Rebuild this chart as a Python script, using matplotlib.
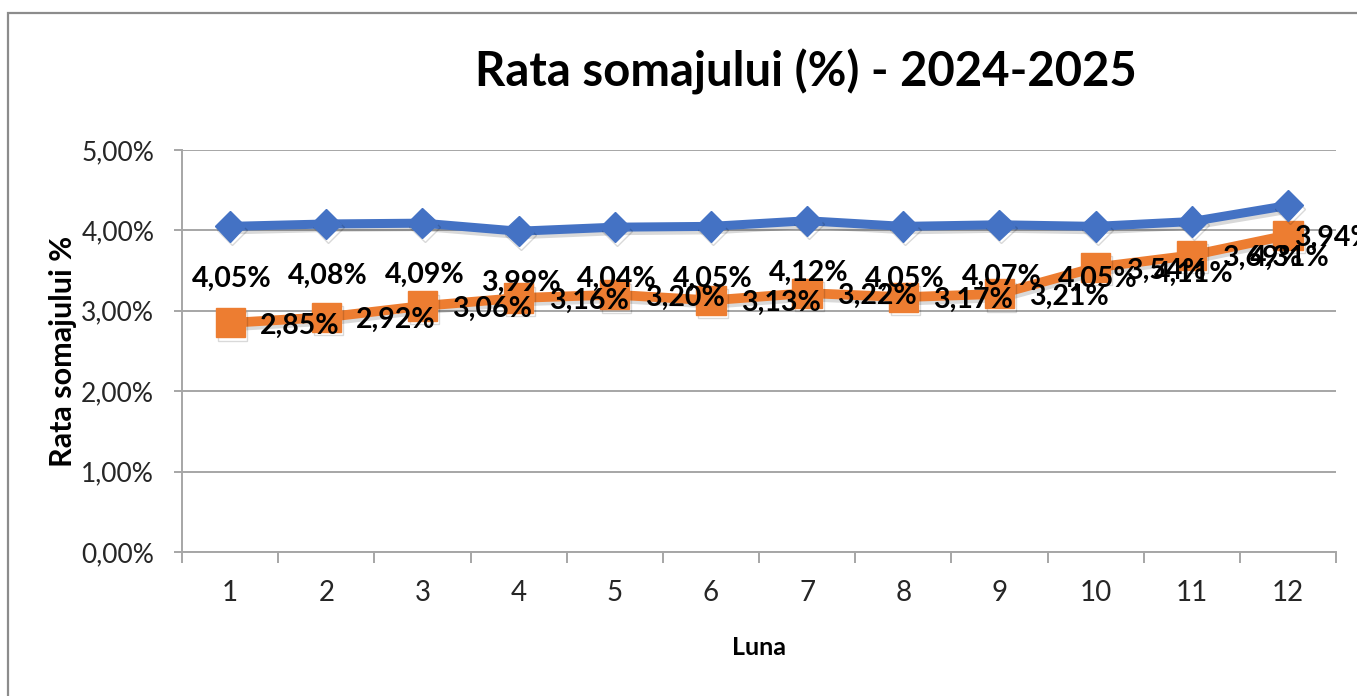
import matplotlib
matplotlib.use('Agg')
import matplotlib.pyplot as plt
import matplotlib.patheffects as pe
from matplotlib.ticker import FixedLocator, FuncFormatter, NullFormatter
from matplotlib.patches import Rectangle

# ── Data ──────────────────────────────────────────────────────────────────────
months      = [1, 2, 3, 4, 5, 6, 7, 8, 9, 10, 11, 12]
rate_2025   = [4.05, 4.08, 4.09, 3.99, 4.04, 4.05, 4.12, 4.05, 4.07, 4.05, 4.11, 4.31]
rate_2024   = [2.85, 2.92, 3.06, 3.16, 3.20, 3.13, 3.22, 3.17, 3.21, 3.54, 3.69, 3.94]
y_ticks     = [0, 1, 2, 3, 4, 5]

TITLE   = 'Rata somajului (%) - 2024-2025'
X_LABEL = 'Luna'
Y_LABEL = 'Rata somajului %'

# ── Style ─────────────────────────────────────────────────────────────────────
FONT    = ['Lato', 'DejaVu Sans']
BLUE    = '#4472C4'
ORANGE  = '#ED7D31'
GRID    = '#A6A6A6'
TEXT    = '#262626'

plt.rcParams['font.family'] = FONT

fig = plt.figure(figsize=(13.57, 6.96), dpi=100)
fig.patch.set_facecolor('white')

# thin chart-area border (left/top visible, rest cut off)
fig.patches.append(Rectangle((8 / 1357, -0.1), 1.2, 0.1 + 1 - 13 / 696,
                             transform=fig.transFigure, fill=False,
                             edgecolor='#8C8C8C', linewidth=1.6))

ax = fig.add_axes([182 / 1357, 1 - 552 / 696, (1336 - 182) / 1357, (552 - 150) / 696])

fmt_pct = lambda v: f'{v:.2f}%'.replace('.', ',')

shadow = [pe.SimpleLineShadow(offset=(1.5, -2.5), alpha=0.15, shadow_color='black'),
          pe.Normal()]

ax.plot(months, rate_2025, color=BLUE, linewidth=6.5, marker='D',
        markersize=15.5, markerfacecolor=BLUE, markeredgecolor=BLUE,
        path_effects=shadow, zorder=4, solid_joinstyle='round')
ax.plot(months, rate_2024, color=ORANGE, linewidth=7, marker='s',
        markersize=21, markerfacecolor=ORANGE, markeredgecolor=ORANGE,
        path_effects=shadow, zorder=3, solid_joinstyle='round')

# data labels
for m, v in zip(months, rate_2025):
    ax.annotate(fmt_pct(v), (m, v), xytext=(2, -52), textcoords='offset pixels',
                ha='center', va='center', fontsize=20.5, fontweight='bold',
                color='black', zorder=6)
for i, (m, v) in enumerate(zip(months, rate_2024)):
    dx = 30 if i < len(months) - 1 else 6
    ax.annotate(fmt_pct(v), (m, v), xytext=(dx, -3), textcoords='offset pixels',
                ha='left', va='center', fontsize=20.5, fontweight='bold',
                color='black', zorder=6)

# axes
ax.set_xlim(0.5, 12.5)
ax.set_ylim(0, 5)
ax.yaxis.set_major_locator(FixedLocator(y_ticks))
ax.yaxis.set_major_formatter(FuncFormatter(lambda v, p: fmt_pct(v)))
ax.grid(axis='y', color=GRID, linewidth=1.4)
ax.set_axisbelow(True)

ax.xaxis.set_major_locator(FixedLocator([m - 0.5 for m in months] + [months[-1] + 0.5]))
ax.xaxis.set_major_formatter(NullFormatter())
ax.xaxis.set_minor_locator(FixedLocator(months))
ax.xaxis.set_minor_formatter(FuncFormatter(lambda v, p: f'{int(v)}'))
ax.tick_params(axis='x', which='major', length=8, width=1.4, color=GRID, direction='out')
ax.tick_params(axis='x', which='minor', length=0, pad=20, labelsize=20, labelcolor=TEXT)
ax.tick_params(axis='y', length=6, width=1.4, color=GRID, pad=14, labelsize=19, labelcolor=TEXT)

for s in ['top', 'right']:
    ax.spines[s].set_visible(False)
for s in ['left', 'bottom']:
    ax.spines[s].set_color(GRID)
    ax.spines[s].set_linewidth(1.4)

ax.set_xlabel(X_LABEL, fontsize=18, fontweight='bold', color='black', labelpad=22)
ax.set_ylabel(Y_LABEL, fontsize=22, fontweight='bold', color='black', labelpad=3)

fig.text(806 / 1357, 1 - 72 / 696, TITLE, ha='center', va='center',
         fontsize=34, fontweight='bold', color='black')

fig.savefig('out.png', dpi=100)
